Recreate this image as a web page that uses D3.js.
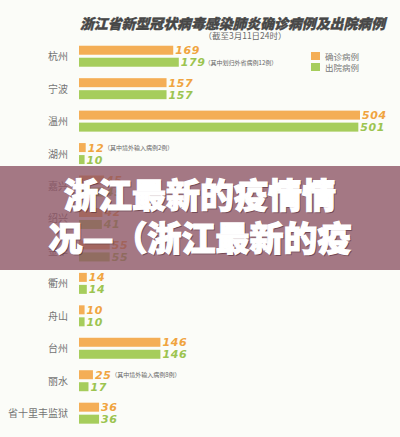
<!DOCTYPE html>
<html><head><meta charset="utf-8">
<script src="https://cdn.jsdelivr.net/npm/d3@7"></script>
<style>
html,body{margin:0;padding:0;background:#fbfcf8;}
svg{display:block;}
</style></head>
<body>
<script>
const categories = ["杭州","宁波","温州","湖州","嘉兴","绍兴","金华","衢州","舟山","台州","丽水","省十里丰监狱"];
const confirmed = [169,157,504,12,45,42,55,14,10,146,25,36];
const discharged = [179,157,501,10,45,41,55,14,10,146,17,36];
const confirmedNotes = ["","","","（其中境外输入病例2例）","","","","","","","（其中境外输入病例8例）",""];
const dischargedNotes = ["（其中划归外省病例12例）","","","","","","","","","","",""];
const seriesNames = ["确诊病例","出院病例"];
const titleText = "浙江省新型冠状病毒感染肺炎确诊病例及出院病例";
const subtitleText = "（截至3月11日24时）";
const overlayLines = ["浙江最新的疫情情","况—（浙江最新的疫"];

const W = 400, H = 437;
const orange = "#f4ae56", green = "#a6cd5c";
const orangeText = "#f0a440", greenText = "#9cc450";

const svg = d3.select("body").append("svg").attr("width", W).attr("height", H);
svg.append("rect").attr("width", W).attr("height", H).attr("fill", "#fbfcf8");

const x = d3.scaleLinear().domain([0, 504]).range([79, 360]);
const y = d3.scaleBand().domain(categories).range([40, 429.4]);
const mid = c => y(c) + y.bandwidth() / 2;
const barH = 9;

// title
svg.append("text").attr("x", 80).attr("y", 28.5)
  .attr("textLength", 305).attr("lengthAdjust", "spacingAndGlyphs")
  .attr("font-family", "Noto Sans CJK SC").attr("font-weight", 900)
  .attr("font-size", 14).attr("font-style", "italic")
  .attr("stroke", "#474747").attr("stroke-width", 0.4)
  .attr("fill", "#474747").text(titleText);
svg.append("text").attr("x", 245).attr("y", 38.5).attr("text-anchor", "middle")
  .attr("font-family", "Noto Sans CJK SC").attr("font-size", 8.5)
  .attr("fill", "#6a6a6a").text(subtitleText);

// legend
const lg = svg.append("g");
[orange, green].forEach((col, i) => {
  lg.append("rect").attr("x", 311).attr("y", 52 + i * 11).attr("width", 9).attr("height", 8).attr("fill", col);
  lg.append("text").attr("x", 325).attr("y", 59.5 + i * 11)
    .attr("font-family", "Noto Sans CJK SC").attr("font-size", 8.5).attr("fill", "#777")
    .text(seriesNames[i]);
});

// category labels
svg.append("g").selectAll("text").data(categories).join("text")
  .attr("x", 68).attr("y", d => mid(d) + 4)
  .attr("text-anchor", "end").attr("font-family", "Noto Sans CJK SC")
  .attr("font-size", 10).attr("fill", "#747474").text(d => d);

function series(vals, notes, col, tcol, dy) {
  const g = svg.append("g");
  g.selectAll("rect").data(vals).join("rect")
    .attr("x", x(0)).attr("y", (d, i) => mid(categories[i]) + dy)
    .attr("width", d => x(d) - x(0)).attr("height", barH).attr("fill", col);
  g.selectAll("text.v").data(vals).join("text").attr("class", "v")
    .attr("x", d => x(d) + 2).attr("y", (d, i) => mid(categories[i]) + dy + 8.5)
    .attr("font-family", "DejaVu Sans").attr("font-weight", "bold").attr("font-style", "italic")
    .attr("font-size", 11).attr("letter-spacing", 0.6).attr("fill", tcol).text(d => d);
  g.selectAll("text.n").data(vals).join("text").attr("class", "n")
    .attr("x", (d) => x(d) + 2 + String(d).length * 7.6 + 1)
    .attr("y", (d, i) => mid(categories[i]) + dy + 7)
    .attr("font-family", "Noto Sans CJK SC").attr("font-size", 6)
    .attr("fill", "#666").text((d, i) => notes[i]);
}
series(confirmed, confirmedNotes, orange, orangeText, -10.5);
series(discharged, dischargedNotes, green, greenText, 1.5);

// overlay band
svg.append("rect").attr("x", 0).attr("y", 166).attr("width", W).attr("height", 104)
  .attr("fill", "rgb(140,82,99)").attr("opacity", 0.78);

const ov = svg.append("g").attr("font-family", "Noto Sans CJK SC").attr("font-weight", 900)
  .attr("font-size", 34).attr("text-anchor", "middle");
overlayLines.forEach((s, i) => {
  ov.append("text").attr("x", 201).attr("y", 209 + i * 43)
    .attr("fill", "rgba(60,20,30,0.35)").attr("stroke", "rgba(60,20,30,0.35)").attr("stroke-width", 1.2).text(s);
  ov.append("text").attr("x", 200).attr("y", 208 + i * 43)
    .attr("fill", "#ffffff").attr("stroke", "#ffffff").attr("stroke-width", 1.2).text(s);
});
</script>
</body></html>
